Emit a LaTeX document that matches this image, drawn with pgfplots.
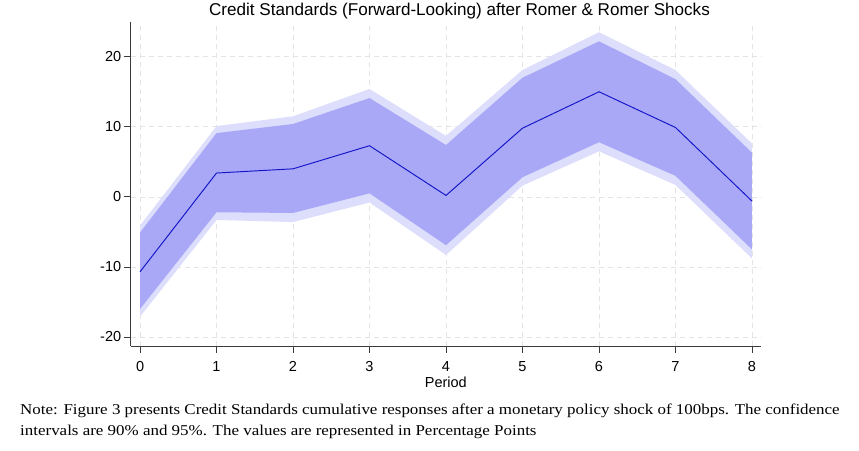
\documentclass[border=0pt]{standalone}
\usepackage{pgfplots}
\pgfplotsset{compat=1.18}
\usepackage{pgfplotstable}
\usepackage{fontspec}
\setmainfont{Liberation Sans}
\newfontfamily\notefont[FakeStretch=1.13]{Liberation Serif}
\definecolor{ciouter}{RGB}{221,221,252}
\definecolor{ciinner}{RGB}{168,168,247}
\definecolor{irfline}{RGB}{20,20,200}
\definecolor{gridc}{RGB}{228,228,228}
\definecolor{axisc}{RGB}{60,60,60}
\pgfplotstableread{
p  m
0 -10.7
1  3.4
2  4.0
3  7.3
4  0.2
5  9.8
6  15.0
7  9.9
8 -0.6
}\irf
\begin{document}
\begin{tikzpicture}
\path[use as bounding box] (0bp,0bp) rectangle (859bp,451bp);
\begin{axis}[
  at={(130.7bp,105bp)}, anchor=south west,
  scale only axis, width=630.3bp, height=324bp,
  xmin=-0.122, xmax=8.118, ymin=-21.29, ymax=24.96,
  axis x line=bottom, axis y line=left,
  axis line style={-, draw=axisc, line width=0.8pt},
  xtick={0,...,8}, ytick={-20,-10,0,10,20},
  tick align=outside, major tick length=7bp,
  tick style={draw=axisc, line width=0.8pt},
  grid=major, major grid style={gridc, line width=0.6pt, dash pattern=on 5bp off 4bp},
  /pgf/number format/assume math mode=true,
  ticklabel style={font=\fontsize{14.5bp}{16bp}\selectfont},
  yticklabel style={xshift=1bp},
  xticklabel style={yshift=-5bp},
  xlabel={Period},
  xlabel style={font=\fontsize{14.5bp}{16bp}\selectfont, at={(axis description cs:0.5,-0.1133)}, anchor=center},
]
% 95% band: upper edge then lower edge reversed
\addplot[draw=none, fill=ciouter] coordinates {
 (0,-4.1) (1,10.1) (2,11.5) (3,15.4) (4,8.7) (5,18.1) (6,23.5) (7,18.1) (8,7.6)
 (8,-8.8) (7,1.7) (6,6.5) (5,1.6) (4,-8.3) (3,-0.8) (2,-3.6) (1,-3.3) (0,-17.1)
} -- cycle;
% 90% band
\addplot[draw=none, fill=ciinner] coordinates {
 (0,-5.1) (1,9.1) (2,10.4) (3,14.1) (4,7.4) (5,17.0) (6,22.2) (7,16.8) (8,6.3)
 (8,-7.5) (7,3.0) (6,7.8) (5,2.8) (4,-6.9) (3,0.5) (2,-2.3) (1,-2.2) (0,-16.0)
} -- cycle;
\addplot[irfline, line width=0.95pt, mark=none] table[x=p,y=m]{\irf};
\end{axis}
\node[font=\fontsize{17.1bp}{19bp}\selectfont] at (459.5bp,440bp) {Credit Standards (Forward-Looking) after Romer \& Romer Shocks};
\node[anchor=base west, inner sep=0pt, font=\notefont\fontsize{15bp}{17bp}\selectfont] at (20bp,36.5bp) {Note: Figure 3 presents Credit Standards cumulative responses after a monetary policy shock of 100bps. The confidence};
\node[anchor=base west, inner sep=0pt, font=\notefont\fontsize{15bp}{17bp}\selectfont] at (20bp,15.5bp) {intervals are 90\% and 95\%. The values are represented in Percentage Points};
\end{tikzpicture}
\end{document}
